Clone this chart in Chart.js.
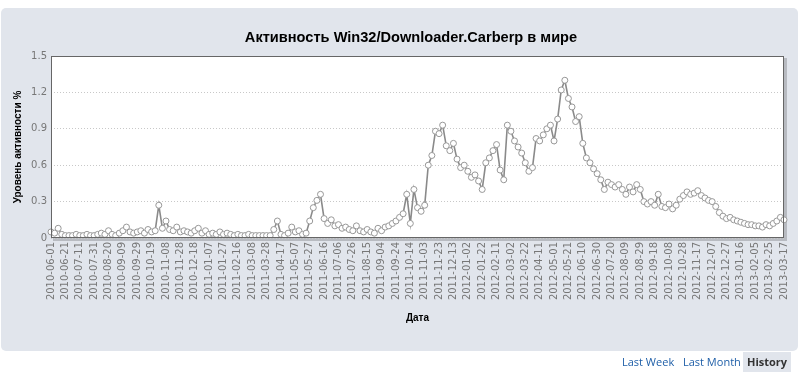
<!DOCTYPE html>
<html>
<head>
<meta charset="utf-8">
<script src="https://cdn.jsdelivr.net/npm/chart.js@4/dist/chart.umd.min.js"></script>
<style>
    body { margin: 0; background: #fff; width: 800px; height: 372px; overflow: hidden; position: relative; }
    #wrap { position: absolute; left: 0; top: 0; width: 800px; height: 372px; }
    .link { position: absolute; top: 352px; height: 20px; line-height: 20px; white-space: nowrap;
            font-family: "Open Sans", sans-serif; font-size: 11px; color: #1f5fa8; }
    .link.active { background: #e1e5ec; color: #333; font-weight: bold; padding: 0 4px; }
</style>
</head>
<body>
<div id="wrap"><canvas id="chart" width="800" height="372"></canvas></div>
<span class="link" style="left:622px">Last Week</span>
<span class="link" style="left:683px">Last Month</span>
<span class="link active" style="left:743px">History</span>
<script>
// ===============================
// Data (one value every 5 days)
// ===============================
const startDate = "2010-06-01";
const stepDays = 5;
const chartTitle = "Активность Win32/Downloader.Carberp в мире";

const tickLabels = [
    "2010-06-01", "2010-06-21", "2010-07-11", "2010-07-31", "2010-08-20", "2010-09-09",
    "2010-09-29", "2010-10-19", "2010-11-08", "2010-11-28", "2010-12-18", "2011-01-07",
    "2011-01-27", "2011-02-16", "2011-03-08", "2011-03-28", "2011-04-17", "2011-05-07",
    "2011-05-27", "2011-06-16", "2011-07-06", "2011-07-26", "2011-08-15", "2011-09-04",
    "2011-09-24", "2011-10-14", "2011-11-03", "2011-11-23", "2011-12-13", "2012-01-02",
    "2012-01-22", "2012-02-11", "2012-03-02", "2012-03-22", "2012-04-11", "2012-05-01",
    "2012-05-21", "2012-06-10", "2012-06-30", "2012-07-20", "2012-08-09", "2012-08-29",
    "2012-09-18", "2012-10-08", "2012-10-28", "2012-11-17", "2012-12-07", "2012-12-27",
    "2013-01-16", "2013-02-05", "2013-02-25", "2013-03-17"
];

// 2010-06-01 .. 2010-12-28
const activity2010 = [
    0.05, 0.04, 0.08, 0.03, 0.02, 0.02, 0.02, 0.03, 0.02, 0.02,
    0.03, 0.02, 0.02, 0.03, 0.04, 0.03, 0.06, 0.03, 0.02, 0.04,
    0.06, 0.09, 0.05, 0.04, 0.05, 0.06, 0.04, 0.07, 0.05, 0.06,
    0.27, 0.08, 0.14, 0.07, 0.06, 0.09, 0.05, 0.06, 0.05, 0.04,
    0.06, 0.08, 0.04
];

// 2011-01-02 .. 2011-12-28
const activity2011 = [
    0.06, 0.03, 0.04, 0.03, 0.05, 0.03, 0.04, 0.03, 0.02, 0.03,
    0.02, 0.02, 0.03, 0.02, 0.02, 0.02, 0.02, 0.02, 0.02, 0.07,
    0.14, 0.03, 0.02, 0.04, 0.09, 0.05, 0.06, 0.03, 0.04, 0.14,
    0.25, 0.31, 0.36, 0.16, 0.12, 0.15, 0.10, 0.11, 0.08, 0.09,
    0.07, 0.06, 0.10, 0.06, 0.05, 0.07, 0.05, 0.04, 0.08, 0.06,
    0.09, 0.10, 0.12, 0.14, 0.17, 0.20, 0.36, 0.12, 0.40, 0.25,
    0.22, 0.27, 0.60, 0.68, 0.88, 0.86, 0.93, 0.76, 0.72, 0.78,
    0.65, 0.58, 0.60
];

// 2012-01-02 .. 2012-12-27
const activity2012 = [
    0.55, 0.50, 0.52, 0.47, 0.40, 0.62, 0.66, 0.72, 0.77, 0.56,
    0.48, 0.93, 0.88, 0.80, 0.75, 0.70, 0.62, 0.55, 0.58, 0.82,
    0.80, 0.85, 0.90, 0.93, 0.80, 0.98, 1.22, 1.30, 1.15, 1.08,
    0.96, 1.00, 0.78, 0.66, 0.62, 0.57, 0.53, 0.48, 0.40, 0.46,
    0.44, 0.42, 0.44, 0.40, 0.36, 0.42, 0.38, 0.44, 0.40, 0.30,
    0.28, 0.30, 0.27, 0.36, 0.26, 0.25, 0.28, 0.24, 0.27, 0.32,
    0.35, 0.38, 0.36, 0.37, 0.39, 0.35, 0.33, 0.31, 0.30, 0.26,
    0.21, 0.18, 0.16
];

// 2013-01-01 .. 2013-03-17
const activity2013 = [
    0.17, 0.15, 0.14, 0.13, 0.12, 0.11, 0.11, 0.10, 0.10, 0.09,
    0.11, 0.10, 0.12, 0.14, 0.17, 0.15
];

const activity = [...activity2010, ...activity2011, ...activity2012, ...activity2013];

// category labels: one date per data point
const dates = activity.map((v, i) => {
    const d = new Date(startDate + "T00:00:00Z");
    d.setUTCDate(d.getUTCDate() + i * stepDays);
    return d.toISOString().slice(0, 10);
});
const ticksEvery = 20 / stepDays;

// ===============================
// Panel, plot frame and title
// ===============================
const framePlugin = {
    id: "frame",
    beforeDraw(chart) {
        const c = chart.ctx;
        const a = chart.chartArea;
        c.save();
        // grey panel
        c.fillStyle = "#e1e5ec";
        c.beginPath();
        c.roundRect(1, 8, 797, 343, 5);
        c.fill();
        // plot shadow
        c.fillStyle = "rgba(0,0,0,0.18)";
        c.fillRect(a.left + 2, a.top + 2, a.right - a.left + 1, a.bottom - a.top + 1);
        // plot bg
        c.fillStyle = "#fff";
        c.fillRect(a.left, a.top, a.right - a.left, a.bottom - a.top);
        // title
        c.fillStyle = "#000";
        c.font = "bold 14.6px 'Liberation Sans'";
        c.textAlign = "center";
        c.textBaseline = "middle";
        c.fillText(chartTitle, 411, 38);
        c.restore();
    },
    afterDatasetsDraw(chart) {
        const c = chart.ctx;
        const a = chart.chartArea;
        c.save();
        c.strokeStyle = "#666";
        c.lineWidth = 1;
        c.strokeRect(Math.round(a.left) + 0.5, Math.round(a.top) + 0.5,
            Math.round(a.right - a.left) - 1, Math.round(a.bottom - a.top) - 1);
        c.restore();
    }
};

const ctx = document.getElementById("chart").getContext("2d");

const chart = new Chart(ctx, {
    type: "line",
    data: {
        labels: dates,
        datasets: [{
            data: activity,
            borderColor: "#8a8a8a",
            borderWidth: 1.6,
            pointRadius: 3,
            pointBackgroundColor: "#fff",
            pointBorderColor: "#999",
            pointBorderWidth: 1,
            fill: false,
            tension: 0
        }]
    },
    options: {
        responsive: false,
        animation: false,
        layout: { padding: { left: 8, right: 15, top: 56, bottom: 46 } },
        plugins: {
            legend: { display: false },
            tooltip: { enabled: false },
            title: { display: false }
        },
        scales: {
            x: {
                grid: { display: false, drawTicks: false },
                border: { display: false },
                offset: false,
                ticks: {
                    autoSkip: false,
                    minRotation: 90,
                    maxRotation: 90,
                    padding: 4,
                    color: "#777",
                    font: { family: "DejaVu Sans", size: 10 },
                    callback: (v, i) => i % ticksEvery === 0 ? tickLabels[i / ticksEvery] : null
                },
                title: {
                    display: true,
                    text: "Дата",
                    color: "#000",
                    font: { family: "Liberation Sans", size: 10, weight: "bold" },
                    padding: { top: 4, bottom: 2 }
                },
                afterFit: (s) => { s.height = 88; }
            },
            y: {
                min: 0,
                max: 1.5,
                grid: { color: "#c8c8c8", drawTicks: false },
                border: { display: false, dash: [1, 2] },
                ticks: {
                    stepSize: 0.3,
                    padding: 4,
                    color: "#777",
                    font: { family: "DejaVu Sans", size: 10 },
                    callback: (v) => v === 0 ? "0" : v.toFixed(1)
                },
                title: {
                    display: true,
                    text: "Уровень активности %",
                    color: "#000",
                    font: { family: "Liberation Sans", size: 10, weight: "bold" },
                    padding: { top: 4, bottom: 0 }
                },
                afterFit: (s) => { s.width = 43; }
            }
        }
    },
    plugins: [framePlugin]
});
</script>
</body>
</html>
